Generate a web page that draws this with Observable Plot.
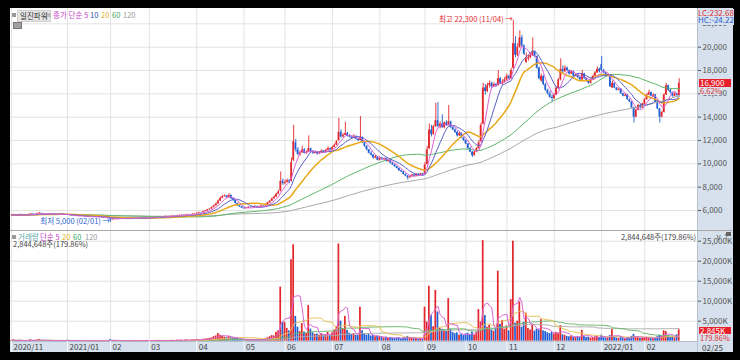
<!DOCTYPE html>
<html><head><meta charset="utf-8">
<script src="https://cdn.jsdelivr.net/npm/d3@7"></script>
<script src="https://cdn.jsdelivr.net/npm/@observablehq/plot@0.6"></script>
<style>
html,body{margin:0;padding:0;background:#000;}
#wrap{position:relative;width:740px;height:360px;background:#000;overflow:hidden;font-family:'Liberation Sans Narrow','Noto Sans CJK KR',sans-serif;}
.abs{position:absolute;white-space:nowrap;line-height:1;}
</style></head><body><div id="wrap">
<div class="abs" style="left:10px;top:8px;width:687px;height:333px;background:#fff"></div>
<div class="abs" style="left:697px;top:8px;width:35px;height:344px;background:#d7e1ed;border-left:1px solid #b4c0cc"></div>
<div class="abs" style="left:10px;top:341px;width:687px;height:11px;background:#d7e1ed;border-top:1px solid #b4c0cc;box-sizing:border-box"></div>
<div class="abs" style="left:10px;top:230px;width:722px;height:1px;background:#a9a9a9"></div>
</div>
<script>
// ---- data (KRW, volume in thousand shares), one value per trading day 2020-11-24 .. 2022-02-25
const open = [
 5580,5600,5650,5590,5620,
 5660,5620,5600,5630,5660,5710,5680,5650,5720,5760,5700,5680,5650,5690,5720,5700,5660,5640,5680,5700,5660,
 5630,5600,5580,5540,5560,5520,5500,5530,5510,5480,5460,5490,5470,5450,5430,5460,5420,5400,5380,5340,
 5290,5200,5280,5320,5300,5340,5310,5350,5330,5300,5340,5360,5330,5350,5380,5360,5340,5370,
 5400,5380,5410,5430,5400,5450,5470,5440,5480,5500,5490,5520,5540,5510,5560,5580,5600,5570,5620,5650,5630,5680,
 5700,5760,5820,5800,5900,5960,6050,6120,6250,6400,6560,6800,7050,7180,7250,7100,7300,7000,6850,6600,6400,6300,
 6200,6150,6200,6280,6250,6300,6350,6280,6320,6400,6380,6500,6650,6800,7000,7150,7400,7650,8500,
 8300,8400,8550,8500,10300,11800,11200,10800,10950,11200,10900,11000,11300,11050,10900,11000,10850,10950,11100,11000,11150,11300,
 11200,11400,11600,12000,12700,12300,12450,12600,12400,12300,12200,12350,12100,12000,12250,11800,11500,11200,10900,10750,10500,10600,
 10300,10500,10350,10450,10200,10300,10050,9900,9750,9600,9400,9300,9100,8950,8800,8900,9050,8950,9100,9000,9150,
 9100,9950,11300,12900,12500,13200,13700,13200,13400,13100,13500,13300,13600,13100,12900,12700,12400,12600,12200,
 12000,11700,11300,11000,10700,11000,11300,11900,13400,16500,16200,16700,16900,16600,16800,16700,17300,16900,17000,
 17200,17500,17300,18200,20300,19300,20000,20800,20100,18700,19000,19100,19300,19600,19200,18200,17100,17500,16800,16300,16000,15700,
 15600,15900,16500,17200,18100,17900,18200,18000,17700,17900,17500,17600,17400,17200,17700,17300,17100,16900,17200,17500,17800,18100,
 18500,18000,17800,17500,17600,16500,16900,16500,16300,16400,16000,15800,15900,15500,15300,14800,14000,14600,15000,14800,
 15100,15500,15900,16100,15800,15900,15300,14700,14000,14400,15900,16700,16300,16100,15800,16000,15850
];
const high = [
 5650,5680,5660,5640,5700,
 5670,5640,5650,5690,5740,5720,5700,5760,5820,5770,5720,5690,5710,5750,5730,5710,5670,5700,5720,5710,5670,
 5650,5620,5590,5590,5570,5530,5560,5540,5520,5490,5520,5500,5480,5460,5490,5470,5430,5410,5390,5350,
 5300,5300,5350,5330,5360,5350,5380,5360,5340,5360,5400,5370,5370,5420,5390,5370,5390,5430,
 5410,5440,5460,5440,5480,5500,5480,5510,5530,5510,5550,5580,5550,5590,5610,5640,5610,5660,5690,5660,5720,5740,
 5790,5860,5830,5940,6000,6090,6150,6300,6480,6640,6900,7150,7300,7350,7280,7450,7320,7050,6880,6650,6450,6350,
 6250,6260,6330,6300,6350,6420,6360,6370,6450,6420,6560,6700,6860,7080,7250,7480,7700,9300,8700,
 8600,8700,8650,10500,13300,12100,11400,11100,11500,11300,11100,12400,11350,11100,11100,11050,11050,11200,11150,11250,11450,11350,
 11500,11700,12000,13900,12900,12600,13550,12700,12500,12400,12500,12400,12200,14050,12300,11850,11550,11250,11050,10800,10700,10650,
 10600,10550,10500,10500,10350,10350,10100,9950,9800,9650,9450,9350,9150,9000,8950,9100,9100,9150,9150,9200,9180,
 10100,11500,13400,13300,13300,15200,15250,13600,14200,13600,13700,15000,13650,13200,13000,12800,12700,12650,12300,
 12050,11750,11400,11050,11100,11400,12000,13500,16900,16800,16900,17100,17000,16950,16900,18000,17400,17200,17400,
 17700,17600,18200,22300,20900,20300,21400,21000,20200,19500,19300,19500,20800,19700,19250,18300,17700,17550,16900,16400,16200,15900,
 16000,16600,17300,19000,18400,18400,18300,18050,18000,17950,17700,17650,17450,18000,17750,17350,17150,17300,17600,17900,18300,18200,
 19200,18100,17850,17700,17650,17100,16950,16550,16500,16450,16050,16000,15950,15550,15350,14850,14700,15100,15100,15200,
 15600,16000,16300,16150,16000,15950,15350,14750,14500,16000,16900,16750,16400,16150,16100,16050,17300
];
const low = [
 5560,5590,5570,5570,5600,
 5600,5580,5590,5610,5650,5660,5630,5640,5700,5680,5660,5630,5640,5680,5680,5650,5620,5630,5660,5650,5600,
 5580,5560,5520,5530,5500,5480,5490,5490,5460,5440,5450,5450,5430,5410,5420,5400,5380,5350,5320,5280,
 5000,5180,5260,5280,5290,5290,5300,5310,5280,5290,5330,5310,5320,5340,5340,5320,5330,5360,
 5360,5370,5400,5390,5390,5440,5420,5430,5470,5470,5480,5510,5490,5500,5550,5570,5550,5560,5610,5610,5620,5670,
 5690,5750,5770,5790,5880,5950,6030,6100,6230,6380,6540,6780,7000,7150,7050,7080,6950,6800,6560,6350,6250,6150,
 6100,6130,6180,6220,6240,6290,6250,6270,6310,6350,6370,6480,6620,6780,6980,7100,7350,7600,8150,
 8200,8350,8300,8450,10200,11000,10700,10650,10900,10850,10800,10950,10950,10800,10850,10750,10800,10900,10900,10950,11100,11100,
 11150,11350,11550,11950,12200,12250,12400,12300,12200,12100,12150,12050,11900,11950,11750,11400,11100,10850,10650,10400,10450,10250,
 10250,10300,10300,10150,10150,10000,9850,9700,9550,9350,9250,9050,8900,8600,8750,8850,8900,8920,8950,8980,9000,
 9050,9900,11200,12300,12450,13100,13100,13000,13050,13000,13200,13250,13050,12850,12600,12300,12350,12150,11900,
 11650,11250,10950,10550,10650,10950,11250,11850,13350,15900,16100,16500,16450,16550,16550,16650,16800,16750,16950,
 17100,17200,17250,18100,19100,19200,19900,20000,19300,18600,18800,19000,19200,19100,18100,17200,17000,16700,16200,15900,15600,15300,
 15500,15850,16400,17100,17700,17800,17900,17600,17650,17400,17450,17300,17100,17150,17250,17000,16800,16850,17150,17450,17750,17800,
 17900,17700,17400,17450,16550,16450,16450,16250,16250,15950,15750,15750,15450,15250,14750,13500,13950,14550,14700,14750,
 15050,15450,15850,15750,15700,15250,14650,13500,13950,14350,15850,16200,16000,15700,15750,15800,15800
];
const close = [
 5600,5640,5590,5620,5650,
 5620,5600,5630,5660,5700,5680,5650,5720,5760,5700,5680,5650,5690,5720,5700,5660,5640,5680,5700,5660,5620,
 5600,5580,5540,5560,5520,5500,5530,5510,5480,5460,5490,5470,5450,5430,5460,5420,5400,5380,5340,5300,
 5200,5280,5320,5300,5340,5310,5350,5330,5300,5340,5360,5330,5350,5380,5360,5340,5370,5400,
 5380,5410,5430,5400,5450,5470,5440,5480,5500,5490,5520,5540,5510,5560,5580,5600,5570,5620,5650,5630,5680,5700,
 5760,5820,5800,5900,5960,6050,6120,6250,6400,6560,6800,7050,7180,7250,7100,7300,7000,6850,6600,6400,6300,6200,
 6150,6200,6280,6250,6300,6350,6280,6320,6400,6380,6500,6650,6800,7000,7150,7400,7600,8500,8300,
 8400,8550,8450,10100,11900,11200,10800,10950,11200,10900,11000,11300,11050,10900,11000,10850,10950,11100,11000,11150,11300,11200,
 11400,11600,11900,12700,12300,12450,12600,12400,12300,12200,12350,12100,12000,12250,11800,11500,11200,10900,10750,10500,10600,10300,
 10500,10350,10450,10200,10300,10050,9900,9750,9600,9400,9300,9100,8950,8800,8900,9050,8950,9100,9000,9150,9050,
 9900,11200,12900,12500,13200,13700,13200,13400,13100,13500,13300,13600,13100,12900,12700,12400,12600,12200,12000,
 11700,11300,11000,10700,11000,11300,11800,13300,16500,16200,16700,16900,16600,16800,16700,17300,16900,17000,17200,
 17500,17300,18000,20300,19300,20000,20800,20100,19400,19000,19100,19300,19600,19200,18200,17300,17500,16800,16300,16000,15700,15600,
 15900,16500,17200,18100,17900,18200,18000,17700,17900,17500,17600,17400,17200,17700,17300,17100,16900,17200,17500,17800,18100,17900,
 18000,17800,17500,17600,16600,16900,16500,16300,16400,16000,15800,15900,15500,15300,14800,14000,14600,15000,14800,15100,
 15500,15900,16100,15800,15900,15300,14700,14000,14400,15900,16700,16300,16100,15800,16000,15850,16900
];
const volume = [
 180,320,150,120,260,
 140,110,130,210,380,160,120,300,450,200,130,110,160,220,140,100,90,150,170,110,120,
 250,180,140,160,120,100,190,110,120,100,160,110,90,100,150,120,100,110,140,160,
 380,220,180,120,150,100,160,110,90,130,180,100,110,200,110,90,140,210,
 120,150,160,100,210,180,110,200,170,120,190,230,130,260,240,280,150,330,300,180,360,320,
 380,420,250,480,520,600,650,820,1100,1300,1900,1500,1200,1000,900,1300,1050,800,700,650,500,420,
 380,350,450,300,380,420,280,330,450,320,600,850,1100,1400,1300,2200,2600,13500,4750,
 4700,3200,2600,20350,24100,6200,3500,2400,4400,2300,1900,8900,3000,2100,1700,1800,1500,1900,1400,1600,2200,1500,
 2100,2800,3600,24300,5000,3200,6200,2700,2000,1700,1900,1500,1400,8500,2600,1800,1500,1700,1300,1400,1100,1200,
 1100,900,800,1000,700,900,800,700,800,900,600,800,900,1200,700,800,600,700,500,800,600,
 8500,4800,13750,6400,3600,12700,7300,3300,3000,2600,2400,10650,3000,2200,1900,2100,1500,1700,1400,
 1800,2000,1600,2300,1500,2200,7900,4800,25150,6400,3500,4000,2800,2500,3200,17500,4200,5200,3000,
 3800,2600,10400,25000,4500,5000,9800,3500,4750,7000,3200,2800,4000,2500,3000,2800,5400,2600,2400,2100,1900,2200,
 1800,2200,2000,3900,1600,1500,1200,1100,1300,1000,900,1100,1000,2700,1200,900,1000,800,900,1100,1200,900,
 1500,900,800,700,1400,2900,1000,800,700,900,800,600,900,800,1200,1700,1100,900,700,800,
 900,1000,800,700,600,900,1100,1500,1200,2600,2400,1300,900,1000,800,1581.6,2844.648
];
const monthTickIdx = [0,26,46,64,86,108,127,149,171,192,211,230,252,274,294];
const monthTickLabels = ["2020/11","2021/01","02","03","04","05","06","07","08","09","10","11","12","2022/01","02"];
const priceTicks = [6000,8000,10000,12000,14000,16000,18000,20000,22000];
const volTicks = [5000,10000,15000,20000,25000];
const extremeDates = ["11/04","02/01"];

const lens = [open.length, high.length, low.length, close.length, volume.length];
if (lens.some(n => n !== 311)) throw new Error("length mismatch " + lens.join(","));

const N = close.length;
const data = close.map((c, i) => ({i, o: open[i], h: high[i], l: low[i], c, v: volume[i]}));
const RED = "#e3262b", BLUE = "#1f5fd3";
const col = d => d.c >= d.o ? RED : BLUE;
const FONT = "'Liberation Sans Narrow','Noto Sans CJK KR',sans-serif";
const xRange = [1, 668.7];
const fmt = d3.format(",");
const labelMap = new Map(monthTickIdx.map((d, i) => [d, monthTickLabels[i]]));

const hiIdx = d3.maxIndex(high), loIdx = d3.minIndex(low);
const ann = [
  {x: hiIdx, y: high[hiIdx], t: `최고 ${fmt(high[hiIdx])} (${extremeDates[0]}) →`, f: RED, dy: 4.5},
  {x: loIdx, y: low[loIdx], t: `최저 ${fmt(low[loIdx])} (${extremeDates[1]}) →`, f: BLUE, dy: -2.5}
];

const ma = (k, field, stroke, w) =>
  Plot.lineY(data, Plot.windowY({k, anchor: "end"}, {x: "i", y: field, stroke, strokeWidth: w}));

const style = {background: "transparent", fontFamily: FONT, fontSize: "8px", overflow: "visible"};

const price = Plot.plot({
  width: 723, height: 222, marginLeft: 0, marginRight: 36, marginTop: 0, marginBottom: 0,
  style,
  x: {domain: [0, N - 1], range: xRange, axis: null},
  y: {domain: [6000, 22000], range: [202, 15.33], axis: null},
  color: {type: "identity"},
  marks: [
    Plot.gridY(priceTicks, {stroke: "#e3e3e3", strokeOpacity: 1}),
    Plot.gridX(monthTickIdx, {stroke: "#e3e3e3", strokeOpacity: 1}),
    Plot.ruleX(data, {x: "i", y1: "l", y2: "h", stroke: col, strokeWidth: 0.9}),
    Plot.rect(data, {x1: d => d.i - 0.38, x2: d => d.i + 0.38, y1: "o", y2: "c", fill: col}),
    ma(120, "c", "#a6a6a6", 1),
    ma(60, "c", "#5db36a", 1),
    ma(20, "c", "#e8a818", 1.5),
    ma(10, "c", "#5a60c8", 1),
    ma(5, "c", "#dd62d6", 1),
    Plot.text(ann, {x: "x", y: "y", text: "t", fill: "f", dy: "dy", textAnchor: "end", dx: -1, fontSize: 7.5}),
    Plot.axisY(priceTicks, {anchor: "right", tickSize: 3, tickPadding: 2, tickFormat: fmt, color: "#555", fontSize: 8})
  ]
});

const vol = Plot.plot({
  width: 723, height: 121, marginLeft: 0, marginRight: 36, marginTop: 0, marginBottom: 11,
  style,
  x: {domain: [0, N - 1], range: xRange, axis: null},
  y: {domain: [0, 25000], range: [109.7, 9.7], axis: null},
  color: {type: "identity"},
  marks: [
    Plot.gridY(volTicks, {stroke: "#e3e3e3", strokeOpacity: 1}),
    Plot.gridX(monthTickIdx, {stroke: "#e3e3e3", strokeOpacity: 1}),
    Plot.rect(data, {x1: d => d.i - 0.4, x2: d => d.i + 0.4, y1: 0, y2: "v", fill: col}),
    ma(120, "v", "#b0b0b0", 1),
    ma(60, "v", "#6fb870", 1),
    ma(20, "v", "#e9c45a", 1),
    ma(5, "v", "#d866d4", 1),
    Plot.ruleX(monthTickIdx, {x: d => d, y1: 0, y2: -2825, stroke: "#f3f6fa"}),
    Plot.text(monthTickIdx, {x: d => d, y: -1450, text: d => labelMap.get(d), textAnchor: "start", dx: 2, fill: "#444", fontSize: 8}),
    Plot.axisY(volTicks, {anchor: "right", tickSize: 3, tickPadding: 2, tickFormat: d => fmt(d) + "K", color: "#555", fontSize: 8})
  ]
});

const wrap = document.getElementById("wrap");
for (const [el, top] of [[price, 8], [vol, 231]]) {
  el.style.position = "absolute";
  el.style.left = "10px";
  el.style.top = top + "px";
  wrap.appendChild(el);
}

// overlays
const last = data[N - 1], prev = data[N - 2];
const pct = ((last.c / prev.c - 1) * 100).toFixed(2) + "%";
const vpct = ((last.v / prev.v) * 100).toFixed(2) + "%";
const volText = fmt(Math.round(last.v * 1000)) + "주(" + vpct + ")";
const yP = p => 8 + 202 - (p - 6000) * (186.67 / 16000);

function add(html, css) {
  const d = document.createElement("div");
  d.className = "abs";
  d.style.cssText = css;
  d.innerHTML = html;
  wrap.appendChild(d);
  return d;
}
// price header
add("", "left:12px;top:13px;width:4px;height:4px;background:#999");
add("일진파워", "left:17px;top:10px;padding:1px 2px;background:#e6e6e6;border:1px solid #cfcfcf;font-size:7.5px;color:#333");
add("", "left:47px;top:13px;width:4px;height:4px;background:#bbb");
add("종가 단순 5", "left:53px;top:11px;font-size:7.5px;color:#c83cc8");
add("10", "left:90px;top:11px;font-size:7.5px;color:#2f4fb0");
add("20", "left:101px;top:11px;font-size:7.5px;color:#e0b020");
add("60", "left:112px;top:11px;font-size:7.5px;color:#3aa660");
add("120", "left:123px;top:11px;font-size:7.5px;color:#9a9a9a");
add("", "left:13px;top:22px;width:7px;height:5px;background:#a0a0a0;border:1px solid #777");
// volume header
add("", "left:12px;top:235px;width:4px;height:4px;background:#999");
add("거래량", "left:18px;top:233px;font-size:7.5px;color:#5aa8a8");
add("단순 5", "left:40px;top:233px;font-size:7.5px;color:#c83cc8");
add("20", "left:62px;top:233px;font-size:7.5px;color:#e0b020");
add("60", "left:73px;top:233px;font-size:7.5px;color:#3aa660");
add("120", "left:85px;top:233px;font-size:7.5px;color:#9a9a9a");
add(volText, "left:13px;top:239.5px;font-size:7.5px;color:#444");
add(volText, "right:44px;top:232.5px;font-size:7.5px;color:#444");
// right column labels
add("LC:232.68", "left:698px;top:9px;font-size:8px;color:#e03030;background:#d7e1ed");
add("HC:-24.22", "left:698px;top:16px;font-size:8px;color:#2a5fd0;background:#d7e1ed;padding-bottom:1px");
add(fmt(last.c), `left:699px;top:${(yP(last.c) - 4).toFixed(1)}px;width:32px;height:8px;background:#e8202a;color:#fff;font-size:8px;line-height:8px;padding-left:1px;box-sizing:border-box`);
add(pct, `left:700px;top:${(yP(last.c) + 4.5).toFixed(1)}px;font-size:7.5px;color:#e03030;background:#d7e1ed`);
add(fmt(Math.round(last.v)) + "K", `left:699px;top:327px;width:32px;height:7px;background:#e8202a;color:#fff;font-size:8px;line-height:7px;padding-left:1px;box-sizing:border-box`);
add(vpct, "left:700px;top:334px;font-size:7.5px;color:#e03030");
add("", "left:726px;top:232px;width:5px;height:4px;background:#666");
add("02/25", "left:702px;top:343.5px;font-size:8px;color:#444");
</script>
</body></html>
